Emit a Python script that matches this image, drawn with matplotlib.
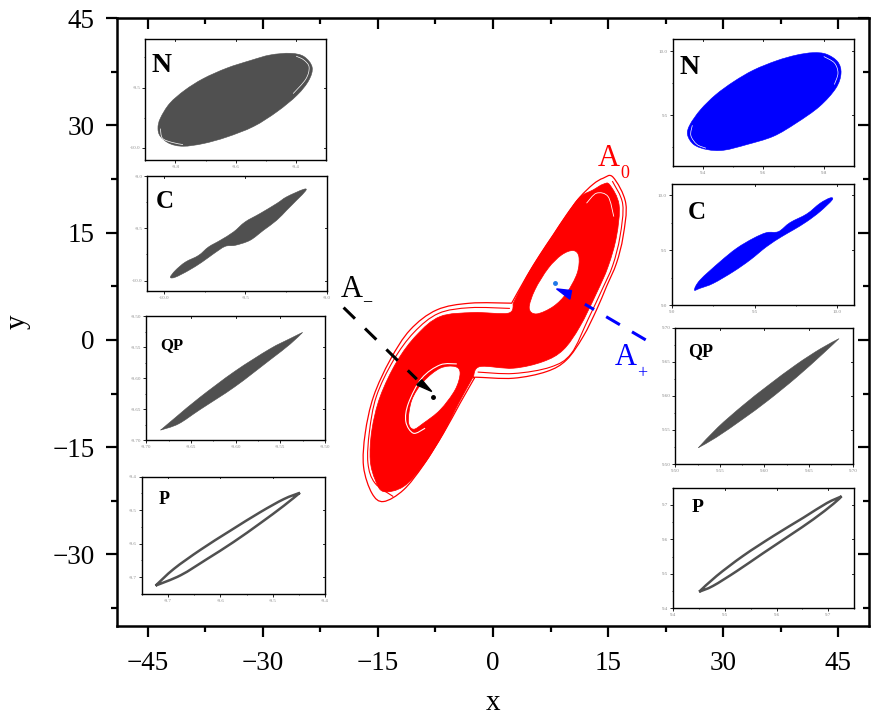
import numpy as np
import matplotlib
matplotlib.use('Agg')
import matplotlib.pyplot as plt
from matplotlib.path import Path
from matplotlib.patches import PathPatch, Polygon
from matplotlib.ticker import AutoMinorLocator, FormatStrFormatter

plt.rcParams['font.family'] = ['Liberation Serif', 'DejaVu Serif']

W, H = 883, 722

# main attractor (x, y); a repeated point is a corner
outer_x = [15.65, 17.30, 16.95, 16.09, 14.79, 13.49, 11.75, 9.58, 6.98, 2.65, -2.12, -2.4, -2.4, -4.29, -6.46, -9.06, -11.66, -14.27, -15.78, -16.87, -16.65, -15.57, -13.40, -10.80, -7.33, -2.99, 2.43, 2.43, 4.38, 6.11, 7.85, 9.58, 11.32, 13.05, 14.35]
outer_y = [22.74, 19.11, 14.45, 10.72, 7.46, 4.19, 0.47, -2.80, -4.43, -5.36, -5.22, -5.3, -5.3, -8.85, -13.05, -17.48, -20.97, -22.60, -21.44, -17.71, -13.05, -7.92, -2.80, 1.40, 4.19, 5.13, 5.13, 5.13, 8.85, 11.88, 14.68, 17.47, 19.95, 21.76, 22.6]
fill_x = [15.22, 16.43, 16.09, 15.0, 13.49, 11.32, 9.15, 6.54, 2.64, -1.69, -2.56, -2.56, -4.5, -6.46, -9.06, -11.66, -14.27, -15.35, -16.0, -15.78, -14.70, -12.53, -9.93, -6.89, -2.56, 1.99, 2.64, 2.64, 4.38, 6.11, 7.85, 9.58, 11.32, 13.05, 14.35]
fill_y = [21.67, 18.87, 14.45, 10.25, 6.53, 1.86, -1.40, -3.03, -3.96, -3.73, -5.13, -5.13, -8.9, -13.05, -17.48, -20.5, -21.2, -19.57, -16.78, -12.58, -7.92, -3.03, 0.70, 3.26, 3.82, 3.73, 5.13, 5.13, 8.85, 11.88, 14.68, 17.47, 19.95, 20.97, 21.76]
mid_x = [15.55, 16.9, 16.55, 15.6, 14.2, 12.4, 10.2, 7.5, 2.7, -2.0]
mid_y = [22.2, 19.0, 14.45, 10.4, 7.0, 2.9, -1.9, -3.8, -4.7, -4.5]
mid2_x = [2.2, -3.0, -7.1, -10.3, -13.0, -15.2, -16.1, -16.3, -15.4, -13.0]
mid2_y = [4.4, 4.5, 3.7, 1.05, -2.9, -7.9, -12.8, -17.2, -20.0, -21.9]
hole_up_x = [10.45, 11.19, 10.97, 9.58, 7.85, 5.68, 4.72, 5.46, 7.20, 8.94]
hole_up_y = [12.49, 11.65, 9.32, 6.53, 4.66, 3.63, 4.43, 6.99, 10.02, 11.88]
hole_lo_x = [-4.94, -4.29, -4.94, -6.89, -9.07, -10.37, -11.02, -10.58, -9.07, -6.89]
hole_lo_y = [-3.73, -4.66, -6.99, -9.79, -11.65, -12.49, -11.42, -8.39, -5.83, -3.96]
ring_x = [-4.72, -6.89, -9.28, -11.02, -11.36, -10.37, -8.85]
ring_y = [-3.36, -3.5, -5.36, -8.85, -11.42, -13.05, -12.35]
top_gap_x = [12.19, 13.49, 15.0, 15.74]
top_gap_y = [19.11, 20.51, 20.03, 17.24]

# arrows
black_x = [-19.47, -9.93]
black_y = [4.52, -5.5]
black_head_x = [-9.93, -9.28, -7.98]
black_head_y = [-6.29, -5.59, -7.22]
black_dot = (-7.8, -8.0)
blue_x = [19.9, 11.97]
blue_y = [0.0, 4.99]
blue_head_x = [8.28, 10.23, 10.02]
blue_head_y = [7.13, 6.89, 5.69]
blue_dot = (8.07, 8.02)

# insets, left column
nl_x = [-9.858, -9.850, -9.819, -9.769, -9.708, -9.630, -9.552, -9.486, -9.419, -9.374, -9.347, -9.358, -9.397, -9.463, -9.541, -9.630, -9.708, -9.774, -9.819, -9.850]
nl_y = [-9.836, -9.754, -9.631, -9.522, -9.426, -9.339, -9.276, -9.230, -9.216, -9.243, -9.331, -9.440, -9.563, -9.699, -9.822, -9.910, -9.964, -9.986, -9.964, -9.904]
cl_x = [-9.959, -9.929, -9.868, -9.787, -9.726, -9.654, -9.573, -9.502, -9.411, -9.309, -9.248, -9.146, -9.132, -9.187, -9.248, -9.309, -9.390, -9.472, -9.563, -9.624, -9.695, -9.766, -9.848, -9.929]
cl_y = [-9.968, -9.904, -9.824, -9.760, -9.679, -9.615, -9.535, -9.439, -9.359, -9.263, -9.199, -9.128, -9.141, -9.231, -9.327, -9.423, -9.519, -9.615, -9.663, -9.673, -9.744, -9.824, -9.904, -9.968]
ql_x = [-9.684, -9.684, -9.666, -9.640, -9.601, -9.562, -9.539, -9.525, -9.525, -9.539, -9.562, -9.601, -9.640, -9.664]
ql_y = [-9.684, -9.684, -9.662, -9.631, -9.589, -9.553, -9.536, -9.526, -9.526, -9.545, -9.571, -9.614, -9.651, -9.674]
pl_x = [-9.724, -9.724, -9.689, -9.638, -9.581, -9.524, -9.479, -9.448, -9.448, -9.479, -9.524, -9.575, -9.626, -9.676]
pl_y = [-9.725, -9.725, -9.675, -9.618, -9.561, -9.506, -9.467, -9.448, -9.448, -9.487, -9.539, -9.595, -9.646, -9.694]

# insets, right column
nr_x = [9.349, 9.357, 9.392, 9.442, 9.502, 9.568, 9.644, 9.709, 9.764, 9.808, 9.846, 9.857, 9.840, 9.786, 9.709, 9.633, 9.545, 9.469, 9.414, 9.370]
nr_y = [9.346, 9.424, 9.542, 9.659, 9.763, 9.854, 9.927, 9.971, 9.990, 9.979, 9.919, 9.828, 9.711, 9.568, 9.4375, 9.333, 9.268, 9.224, 9.229, 9.268]
cr_x = [9.137, 9.171, 9.292, 9.392, 9.493, 9.573, 9.644, 9.714, 9.815, 9.895, 9.956, 9.968, 9.895, 9.815, 9.734, 9.664, 9.573, 9.473, 9.372, 9.252, 9.171]
cr_y = [9.137, 9.228, 9.395, 9.517, 9.608, 9.660, 9.669, 9.751, 9.830, 9.927, 9.976, 9.957, 9.851, 9.760, 9.684, 9.623, 9.532, 9.410, 9.304, 9.198, 9.152]
qr_x = [9.526, 9.526, 9.548, 9.576, 9.604, 9.636, 9.663, 9.684, 9.684, 9.666, 9.636, 9.604, 9.576, 9.546]
qr_y = [9.524, 9.524, 9.554, 9.586, 9.615, 9.646, 9.669, 9.684, 9.684, 9.662, 9.627, 9.593, 9.566, 9.539]
pr_x = [9.450, 9.450, 9.484, 9.535, 9.594, 9.652, 9.697, 9.726, 9.726, 9.710, 9.671, 9.626, 9.574, 9.523, 9.477]
pr_y = [9.448, 9.448, 9.494, 9.552, 9.610, 9.663, 9.705, 9.725, 9.725, 9.703, 9.658, 9.612, 9.560, 9.508, 9.465]

# white gaps in the N insets
nl_gap1_x = [-9.40, -9.375, -9.357, -9.368, -9.41]
nl_gap1_y = [-9.24, -9.27, -9.33, -9.43, -9.55]
nl_gap2_x = [-9.85, -9.843, -9.81, -9.775]
nl_gap2_y = [-9.84, -9.92, -9.955, -9.972]
nr_gap1_x = [9.80, 9.835, 9.847, 9.835]
nr_gap1_y = [9.96, 9.91, 9.83, 9.74]
nr_gap2_x = [9.365, 9.36, 9.38, 9.41]
nr_gap2_y = [9.42, 9.34, 9.27, 9.24]

GREY = '#505050'
BLUE = '#0000ff'
RED = '#ff0000'


def bez(pts):
    # bezier pieces through the read points, end tangents kept short
    verts, codes = [], []
    for i in range(len(pts) - 1):
        p0, p1, p2, p3 = pts[max(i - 1, 0)], pts[i], pts[i + 1], pts[min(i + 2, len(pts) - 1)]
        verts += [p1 + (p2 - p0) / 6, p2 - (p3 - p1) / 6, p2]
        codes += [Path.CURVE4] * 3
    return verts, codes


def smooth(xs, ys, holes=()):
    verts, codes = [], []
    for hx, hy in [(xs, ys)] + list(holes):
        pts = np.column_stack([hx, hy])
        same = np.where((pts == np.roll(pts, -1, axis=0)).all(axis=1))[0]
        if len(same) == 0:
            # no corner: wrap round
            n = len(pts)
            verts.append(pts[0])
            codes.append(Path.MOVETO)
            for i in range(n):
                p0, p1, p2, p3 = pts[i - 1], pts[i], pts[(i + 1) % n], pts[(i + 2) % n]
                verts += [p1 + (p2 - p0) / 6, p2 - (p3 - p1) / 6, p2]
                codes += [Path.CURVE4] * 3
        else:
            # split at the corners
            pts = np.roll(pts, -(same[0] + 1), axis=0)
            same = np.where((pts[:-1] == pts[1:]).all(axis=1))[0]
            verts.append(pts[0])
            codes.append(Path.MOVETO)
            start = 0
            for k in list(same) + [len(pts) - 1]:
                v, c = bez(pts[start:k + 1])
                verts += v
                codes += c
                start = k + 1
                if k == len(pts) - 1:
                    v, c = bez(np.vstack([pts[k], pts[0]]))
                    verts += v
                    codes += c
    return Path(verts, codes)


def open_line(xs, ys):
    pts = np.column_stack([xs, ys])
    v, c = bez(pts)
    return Path([pts[0]] + v, [Path.MOVETO] + c)


def label(px, py, s, size, color='black', weight='normal'):
    fig.text(px / W, 1 - py / H, s, fontsize=size, color=color, weight=weight,
             ha='center', va='center', zorder=20)


def inset(left, right, top, bottom, xlim, ylim, xt, yt, fmt):
    a = fig.add_axes([left / W, 1 - bottom / H, (right - left) / W, (bottom - top) / H])
    a.set_xlim(xlim)
    a.set_ylim(ylim)
    a.set_xticks(xt)
    a.set_yticks(yt)
    a.xaxis.set_minor_locator(AutoMinorLocator(2))
    a.yaxis.set_minor_locator(AutoMinorLocator(2))
    a.xaxis.set_major_formatter(FormatStrFormatter(fmt))
    a.yaxis.set_major_formatter(FormatStrFormatter(fmt))
    a.tick_params(which='major', length=2, width=0.6, labelsize=3.6, labelcolor='#8a8a8a', pad=1.5,
                  top=False, right=False)
    a.tick_params(which='minor', length=1, width=0.5, top=False, right=False)
    for s in a.spines.values():
        s.set_linewidth(1.0)
    # ticks pointing in on the far sides
    for v in xt:
        a.plot([v, v], [ylim[1], ylim[1] - (ylim[1] - ylim[0]) * 0.015], color='black', lw=0.6)
    for v in yt:
        a.plot([xlim[1], xlim[1] - (xlim[1] - xlim[0]) * 0.012], [v, v], color='black', lw=0.6)
    return a


fig = plt.figure(figsize=(W / 100, H / 100), dpi=100)
ax = fig.add_axes([117 / W, 1 - 626 / H, (869 - 117) / W, (626 - 18) / H])
ax.set_xlim(-49, 49)
ax.set_ylim(-40, 45)
ax.set_xticks([-45, -30, -15, 0, 15, 30, 45])
ax.set_yticks([-30, -15, 0, 15, 30, 45])
ax.xaxis.set_minor_locator(AutoMinorLocator(2))
ax.yaxis.set_minor_locator(AutoMinorLocator(2))
ax.tick_params(which='major', length=8, width=1.6, labelsize=19.5, pad=8)
ax.tick_params(axis='x', which='major', pad=10)
ax.tick_params(which='minor', length=4.5, width=1.6)
for s in ax.spines.values():
    s.set_linewidth(1.8)
ax.set_xlabel('x', fontsize=21, labelpad=10)
ax.set_ylabel('y', fontsize=21, labelpad=16)

# far side ticks go inward
top = ax.secondary_xaxis('top')
top.set_xticks([-45, -30, -15, 0, 15, 30, 45])
top.xaxis.set_minor_locator(AutoMinorLocator(2))
top.tick_params(which='major', direction='in', length=8, width=1.6, labeltop=False)
top.tick_params(which='minor', direction='in', length=4.5, width=1.6)
right = ax.secondary_yaxis('right')
right.set_yticks([-30, -15, 0, 15, 30, 45])
right.yaxis.set_minor_locator(AutoMinorLocator(2))
right.tick_params(which='major', direction='in', length=8, width=1.6, labelright=False)
right.tick_params(which='minor', direction='in', length=4.5, width=1.6)

# attractor
ax.add_patch(PathPatch(smooth(outer_x, outer_y), fc='none', ec=RED, lw=0.9))
ax.add_patch(PathPatch(open_line(mid_x, mid_y), fc='none', ec=RED, lw=0.8))
ax.add_patch(PathPatch(open_line(mid2_x, mid2_y), fc='none', ec=RED, lw=0.8))
ax.add_patch(PathPatch(smooth(fill_x, fill_y, [(hole_up_x[::-1], hole_up_y[::-1]), (hole_lo_x[::-1], hole_lo_y[::-1])]),
                       fc=RED, ec=RED, lw=0.5))
ax.add_patch(PathPatch(open_line(ring_x, ring_y), fc='none', ec='white', lw=0.8))
ax.add_patch(PathPatch(open_line(top_gap_x, top_gap_y), fc='none', ec='white', lw=0.6))

# dashed arrows
ax.plot(black_x, black_y, color='black', lw=2.2, linestyle=(0, (5.2, 4.6)), dash_capstyle='butt')
ax.add_patch(Polygon(np.column_stack([black_head_x, black_head_y]), color='black', zorder=5))
ax.plot(*black_dot, 'o', color='black', ms=2.5)
ax.plot(blue_x, blue_y, color=BLUE, lw=2.2, linestyle=(0, (5.2, 4.6)), dash_capstyle='butt')
ax.add_patch(Polygon(np.column_stack([blue_head_x, blue_head_y]), color=BLUE, zorder=5))
ax.plot(*blue_dot, 'o', color='#1f78e8', ms=2.5)

# insets
a = inset(145.3, 326.3, 39.3, 160, (-9.9, -9.3), (-10.1, -9.1), [-9.8, -9.6, -9.4], [-10.0, -9.5], '%.1f')
a.add_patch(PathPatch(smooth(nl_x, nl_y), fc=GREY, ec=GREY, lw=0.4))
a.add_patch(PathPatch(open_line(nl_gap1_x, nl_gap1_y), fc='none', ec='white', lw=0.5))
a.add_patch(PathPatch(open_line(nl_gap2_x, nl_gap2_y), fc='none', ec='white', lw=0.5))

a = inset(147.3, 327.3, 176, 291, (-10.1, -9.0), (-10.1, -9.0), [-10.0, -9.5, -9.0], [-10.0, -9.5, -9.0], '%.1f')
a.add_patch(PathPatch(smooth(cl_x, cl_y), fc=GREY, ec=GREY, lw=0.4))

a = inset(146.3, 325, 316.3, 440, (-9.7, -9.5), (-9.7, -9.5), [-9.7, -9.65, -9.6, -9.55, -9.5],
          [-9.7, -9.65, -9.6, -9.55, -9.5], '%.2f')
a.add_patch(PathPatch(smooth(ql_x, ql_y), fc=GREY, ec=GREY, lw=0.4))

a = inset(142, 325, 476.7, 594, (-9.75, -9.4), (-9.75, -9.4), [-9.7, -9.6, -9.5, -9.4], [-9.7, -9.6, -9.5, -9.4], '%.1f')
a.add_patch(PathPatch(smooth(pl_x, pl_y), fc='none', ec=GREY, lw=1.8))

a = inset(672.7, 854, 38.7, 166, (9.3, 9.9), (9.1, 10.1), [9.4, 9.6, 9.8], [9.5, 10.0], '%.1f')
a.add_patch(PathPatch(smooth(nr_x, nr_y), fc=BLUE, ec=BLUE, lw=0.4))
a.add_patch(PathPatch(open_line(nr_gap1_x, nr_gap1_y), fc='none', ec='white', lw=0.5))
a.add_patch(PathPatch(open_line(nr_gap2_x, nr_gap2_y), fc='none', ec='white', lw=0.5))

a = inset(671.7, 854, 184.3, 305, (9.0, 10.1), (9.0, 10.1), [9.0, 9.5, 10.0], [9.0, 9.5, 10.0], '%.1f')
a.add_patch(PathPatch(smooth(cr_x, cr_y), fc=BLUE, ec=BLUE, lw=0.4))

a = inset(675.3, 853.3, 327.7, 464, (9.5, 9.7), (9.5, 9.7), [9.5, 9.55, 9.6, 9.65, 9.7],
          [9.5, 9.55, 9.6, 9.65, 9.7], '%.2f')
a.add_patch(PathPatch(smooth(qr_x, qr_y), fc=GREY, ec=GREY, lw=0.4))

a = inset(673.3, 854, 487.7, 608.3, (9.4, 9.75), (9.4, 9.75), [9.4, 9.5, 9.6, 9.7], [9.4, 9.5, 9.6, 9.7], '%.1f')
a.add_patch(PathPatch(smooth(pr_x, pr_y), fc='none', ec=GREY, lw=1.8))

# letters
label(161, 66, 'N', 20, weight='bold')
label(165, 202, 'C', 18, weight='bold')
label(172, 345, 'QP', 12, weight='bold')
label(164, 500, 'P', 13, weight='bold')
label(690, 68, 'N', 20, weight='bold')
label(697, 213, 'C', 18, weight='bold')
label(701, 352, 'QP', 13, weight='bold')
label(698, 508, 'P', 14, weight='bold')
label(609, 158, 'A', 22, RED)
label(625, 173, '0', 13, RED)
label(352, 289, 'A', 22)
label(367, 302, '\u2212', 13)
label(626, 358, 'A', 22, BLUE)
label(642, 374, '+', 13, BLUE)

plt.savefig('out.png', dpi=100)
